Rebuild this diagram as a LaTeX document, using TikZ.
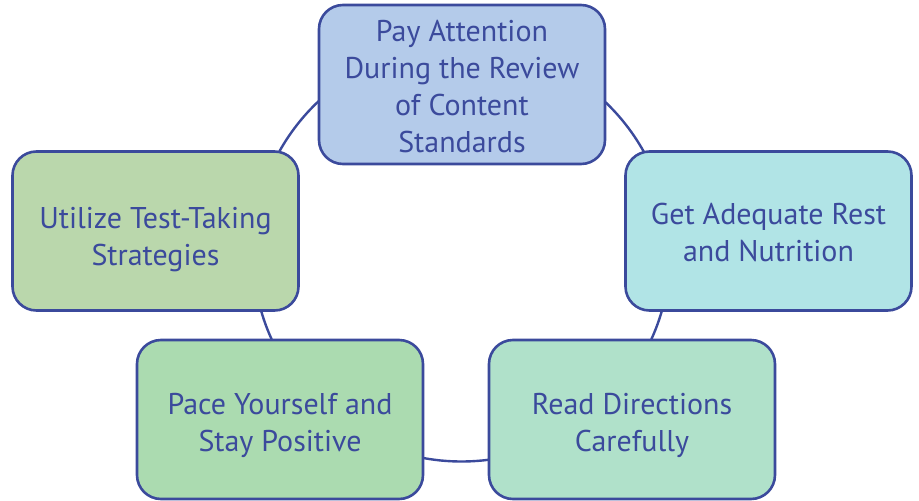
\documentclass[tikz,border=0pt]{standalone}
\usepackage{fontspec}
\setmainfont{PT Sans}
\definecolor{edge}{HTML}{3B4A9C}
\definecolor{fTop}{HTML}{B4CBEA}
\definecolor{fRight}{HTML}{B1E4E6}
\definecolor{fBR}{HTML}{B0E1CA}
\definecolor{fBL}{HTML}{ABDBB0}
\definecolor{fLeft}{HTML}{BAD7AC}
\begin{document}
\begin{tikzpicture}[x=1pt,y=-1pt,
  stepbox/.style={draw=edge, line width=2.6pt, rounded corners=24pt,
    minimum width=286pt, minimum height=159pt, inner sep=0pt},
  steptext/.style={align=center, text=edge, inner sep=0pt,
    font=\fontsize{30}{37}\selectfont},
  ring/.style={draw=edge, line width=2.4pt}]
\useasboundingbox (0,0) rectangle (919,501);
\coordinate (c) at (461.5,253);
\draw[ring] (c) circle[radius=208.5pt];
\node[stepbox, fill=fTop] (top) at (462,84.5) {};
\node[steptext, yshift=-2pt] (topT) at (top) {Pay Attention\\During the Review\\of Content\\Standards};
\node[stepbox, fill=fRight] (right) at (768.5,231) {};
\node[steptext, yshift=-1pt] (rightT) at (right) {Get Adequate Rest\\and Nutrition};
\node[stepbox, fill=fBR] (br) at (632,419.5) {};
\node[steptext, yshift=-6pt] (brT) at (br) {Read Directions\\Carefully};
\node[stepbox, fill=fBL] (bl) at (280,419.5) {};
\node[steptext, yshift=-6pt] (blT) at (bl) {Pace Yourself and\\Stay Positive};
\node[stepbox, fill=fLeft] (left) at (155.5,231) {};
\node[steptext, yshift=-9pt] (leftT) at (left) {Utilize Test-Taking\\Strategies};
\end{tikzpicture}
\end{document}
